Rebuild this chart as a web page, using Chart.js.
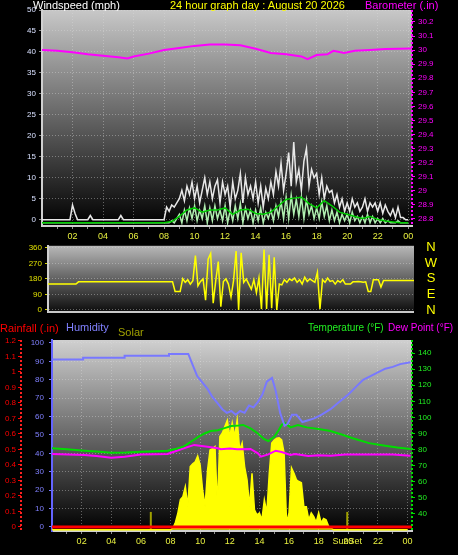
<!DOCTYPE html>
<html>
<head>
<meta charset="utf-8">
<title>24 hour graph day</title>
<script src="https://cdn.jsdelivr.net/npm/chart.js@4.4.1/dist/chart.umd.min.js"></script>
<style>
    body { margin: 0; background: #000; font-family: "Liberation Sans", Arial, sans-serif; }
    #page { position: relative; width: 458px; height: 555px; overflow: hidden; background: #000; }
    #page canvas { position: absolute; left: 0; }
    .caption { position: absolute; font-size: 11px; line-height: 12px; white-space: nowrap; }
</style>
</head>
<body>
<div id="page">
    <canvas id="windChart" width="458" height="245" style="top:0"></canvas>
    <canvas id="dirChart" width="458" height="82" style="top:238px"></canvas>
    <canvas id="climateChart" width="458" height="235" style="top:320px"></canvas>

    <span class="caption" style="left:33px;top:-1px;color:#ffffff">Windspeed (mph)</span>
    <span class="caption" style="left:170px;top:-1px;color:#ffff00">24 hour graph day : August 20 2026</span>
    <span class="caption" style="left:365px;top:-1px;color:#ff00ff">Barometer (.in)</span>

    <span class="caption" style="left:0;top:322px;color:#ff0000">Rainfall (.in)</span>
    <span class="caption" style="left:66px;top:321px;color:#8080ff">Humidity</span>
    <span class="caption" style="left:118px;top:326px;color:#a0a000">Solar</span>
    <span class="caption" style="left:308px;top:322px;color:#22ee22;font-size:10px">Temperature (°F)</span>
    <span class="caption" style="left:388px;top:322px;color:#ff00ff;font-size:10px">Dew Point (°F)</span>
</div>
<script>
// time grids (hours since midnight)
const tenMinHours = Array.from({ length: 145 }, (_, i) => i / 6);
const halfHours = Array.from({ length: 49 }, (_, i) => i / 2);
const hourMarks = Array.from({ length: 24 }, (_, i) => i + 1);

// x tick labels
const hourTicks = [2, 4, 6, 8, 10, 12, 14, 16, 18, 20, 22, 24];
const hourLabels = ['02', '04', '06', '08', '10', '12', '14', '16', '18', '20', '22', '00'];

// y tick values
const windTicks = [0, 5, 10, 15, 20, 25, 30, 35, 40, 45, 50];
const baroTicks = [28.8, 28.9, 29, 29.1, 29.2, 29.3, 29.4, 29.5, 29.6, 29.7, 29.8, 29.9, 30, 30.1, 30.2];
const dirTicks = [0, 90, 180, 270, 360];
const compassLetters = ['N', 'E', 'S', 'W', 'N'];
const humTicks = [0, 10, 20, 30, 40, 50, 60, 70, 80, 90, 100];
const rainTicks = [0, 0.1, 0.2, 0.3, 0.4, 0.5, 0.6, 0.7, 0.8, 0.9, 1, 1.1, 1.2];
const tempTicks = [40, 50, 60, 70, 80, 90, 100, 110, 120, 130, 140];

// wind gust (mph), 10 minute readings
const windGust = [
    0, 0, 0, 0, 0, 0,
    0, 0, 0, 0, 0, 0,
    3.5, 1.5, 0, 0, 0, 0,
    0, 1, 0, 0, 0, 0,
    0, 0, 0, 0, 0, 0,
    0, 1, 0, 0, 0, 0,
    0, 0, 0, 0, 0, 0,
    0, 0, 0, 0, 0, 0,
    0, 3, 2, 3.5, 3, 4,
    5, 7, 4.5, 8, 6, 9,
    5, 8, 4, 7, 10, 6,
    9, 5, 8, 9.5, 4, 9,
    6, 8, 3, 9, 5, 7,
    11, 4, 10, 6, 8, 5,
    9, 4, 8, 3, 7.5, 5,
    9, 6, 11.5, 8, 13.5, 7,
    11, 16, 8, 18.5, 9, 12,
    7, 14, 17, 8, 12, 10,
    11, 6, 10, 5, 8, 6.5,
    7, 4, 6, 3, 5, 2,
    4, 2, 5, 3, 4, 2,
    3, 5, 2, 4, 3, 4,
    2, 4, 1.5, 3.5, 2, 1,
    2.5, 0.5, 3, 0.5, 0.5, 0,
    0
];

// wind average (mph), 10 minute readings
const windAvg = [
    0, 0, 0, 0, 0, 0,
    0, 0, 0, 0, 0, 0,
    0, 0, 0, 0, 0, 0,
    0, 0, 0, 0, 0, 0,
    0, 0, 0, 0, 0, 0,
    0, 0, 0, 0, 0, 0,
    0, 0, 0, 0, 0, 0,
    0, 0, 0, 0, 0, 0,
    0, 0, 0, 0.5, 0, 1,
    2, 0, 3, 0.5, 3.5, 1,
    4, 0.5, 3, 1, 4, 0,
    3.5, 0.5, 4, 1, 3, 0.5,
    4, 0, 3, 0.5, 4, 1,
    4.5, 0, 3.5, 1, 3, 0,
    3, 0.5, 3.5, 0, 2.5, 1,
    3, 0.5, 4, 1.5, 5, 1,
    6, 1, 6.5, 2, 5.5, 1.5,
    6, 1, 5.5, 2, 4, 1,
    3.5, 1, 5, 1.5, 4, 0.5,
    3, 0.5, 2.5, 0, 2, 0.5,
    2, 0, 2.5, 0.5, 1.5, 0,
    1.5, 0, 2, 0, 1.5, 0,
    1, 0, 1, 0, 0.5, 0,
    0, 0, 0.5, 0, 0, 0,
    0
];

// wind average, half hourly
const windAvgSmooth = [
    0, 0, 0, 0, 0, 0, 0, 0, 0, 0, 0, 0, 0, 0, 0, 0, 0,
    0.3, 1.5, 3, 3.5, 2.5, 3, 3, 3.5, 2, 3, 3.2, 2.2, 2, 2.5, 4, 5.5,
    5.8, 6, 4.5, 3.5, 5.2, 4, 2.5, 2, 1.5, 1, 1.5, 0.8, 0.4, 0.2, 0, 0
];

// barometer (in)
const baroHours = [0, 1, 2, 3, 4, 5, 5.6, 6, 7, 8, 9, 10, 11, 12, 13, 14, 15, 16, 17, 17.4, 18, 18.7, 19.1, 19.8, 20.5, 21.5, 22.5, 24.25];
const baroValues = [30.0, 29.995, 29.985, 29.97, 29.96, 29.95, 29.94, 29.955, 29.975, 30.0, 30.015, 30.03, 30.04, 30.04, 30.035, 30.01, 29.98, 29.97, 29.955, 29.935, 29.965, 29.97, 29.995, 29.98, 29.995, 30.0, 30.007, 30.012];

// wind direction (degrees), 10 minute readings
const windDir = [
    150, 150, 150, 150, 150, 150,
    150, 150, 150, 150, 150, 150,
    163, 163, 163, 163, 163, 163,
    163, 163, 163, 163, 163, 163,
    163, 163, 163, 163, 163, 163,
    163, 163, 163, 163, 163, 163,
    163, 163, 163, 163, 163, 163,
    163, 163, 163, 163, 163, 163,
    163, 163, 107, 107, 107, 181,
    160, 175, 150, 170, 315, 140,
    165, 180, 56, 294, 328, 39,
    170, 281, 19, 165, 180, 150,
    75, 170, 342, 0, 331, 160,
    180, 150, 120, 175, 100, 185,
    5, 350, 5, 320, 10, 305,
    0, 150, 145, 175, 160, 180,
    170, 185, 160, 175, 150, 190,
    165, 180, 170, 160, 219, 5,
    175, 160, 185, 165, 170, 150,
    170, 160, 175, 150, 150, 150,
    163, 163, 165, 163, 160, 163,
    107, 107, 175, 175, 175, 133,
    170, 170, 170, 170, 170, 170,
    170, 170, 170, 170, 170, 170,
    170
];

// humidity (%)
const humHours = [0, 2.1, 2.1, 4.9, 4.9, 7.9, 7.9, 9.2, 9.5, 9.8, 10.2, 10.5, 10.8, 11.2, 11.5, 11.8, 12.1, 12.4, 12.7, 13.0, 13.3, 13.6, 13.9, 14.2, 14.5, 14.85, 15.1, 15.4, 15.7, 15.9, 16.2, 16.5, 16.9, 17.3, 17.7, 18.2, 18.8, 19.4, 20.0, 20.5, 21.0, 21.5, 22.0, 22.5, 23.0, 23.5, 24.2];
const humValues = [91, 91, 92, 92, 93, 93, 94, 94, 88, 82, 78, 75, 71, 67, 64, 62, 63, 61, 63, 62, 66, 65, 68, 72, 79, 81, 74, 62, 55, 56, 61, 61, 57, 58, 59, 61, 64, 68, 72, 76, 80, 82, 84, 86, 87, 88.5, 89.5];

// temperature (F)
const tempHours = [0, 1, 2.2, 3, 4, 5, 6, 7, 7.8, 8.4, 8.9, 9.4, 9.9, 10.3, 10.7, 11.2, 11.7, 12.1, 12.6, 12.9, 13.4, 13.9, 14.3, 14.6, 15.0, 15.3, 15.5, 15.7, 16.1, 16.6, 17.2, 18.1, 18.8, 19.5, 20.3, 21.4, 22.5, 23.3, 24.2];
const tempValues = [80.8, 80.2, 79.3, 78.8, 78, 78.2, 78.7, 79, 79.3, 80.5, 82, 85, 88, 90, 91.5, 92, 93.5, 94.7, 95, 95.3, 93.2, 90, 86.6, 85.3, 88, 92, 95.3, 96.7, 93.8, 95.3, 93.8, 92.6, 91.5, 89.5, 87, 84, 82.4, 81.3, 80.4];

// dew point (F)
const dewHours = [0, 2.2, 3, 4, 4.9, 6, 7.8, 8.9, 9.3, 9.6, 10.5, 11.2, 11.4, 12.0, 12.5, 13.4, 13.9, 14.1, 14.6, 15.1, 15.5, 16.1, 16.4, 17.3, 18.0, 18.8, 19.8, 21, 22, 23, 24.2];
const dewValues = [77.3, 76.6, 76, 75, 75.6, 77, 77.3, 80.8, 82, 82.9, 81.8, 80.8, 80.2, 80.6, 80.2, 80.4, 77.7, 75.6, 77, 79.3, 78.5, 76.6, 77.3, 76, 76.5, 76.2, 77, 77, 77, 77, 76.2];

// rainfall (in)
const rainHours = [0, 24.3];
const rainValues = [0, 0];

// solar (W/m2), 10 minute readings
const solar = [
    0, 0, 0, 0, 0, 0,
    0, 0, 0, 0, 0, 0,
    0, 0, 0, 0, 0, 0,
    0, 0, 0, 0, 0, 0,
    0, 0, 0, 0, 0, 0,
    0, 0, 0, 0, 0, 0,
    0, 0, 0, 0, 0, 0,
    0, 0, 0, 0, 0, 0,
    0, 10, 40, 90, 160, 176,
    229, 123, 335, 350, 360, 391,
    344, 212, 123, 317, 423, 430,
    441, 123, 494, 513, 547, 580,
    494, 566, 494, 582, 423, 460,
    335, 265, 123, 300, 106, 80,
    90, 53, 159, 90, 300, 460,
    476, 485, 487, 476, 407, 37,
    90, 328, 300, 265, 256, 249,
    123, 123, 53, 90, 70, 40,
    90, 37, 60, 53, 20, 10,
    0, 0, 0, 0, 0, 0,
    0, 0, 0, 0, 0, 0,
    0, 0, 0, 0, 0, 0,
    0, 0, 0, 0, 0, 0,
    0, 0, 0, 0, 0, 0,
    0
];
const sunEvents = [6.67, 19.93];
const sunMarkerLevel = 95;

Chart.defaults.font.family = '"Liberation Sans", Arial, sans-serif';

const gridColor = 'rgba(220, 220, 220, 0.4)';
const gridDash = [1, 2];
const xLabelColor = '#e8f040';

function toPoints(xs, ys) {
    return xs.map((x, i) => ({ x: x, y: ys[i] }));
}

function fixWidth(w) {
    return scale => { scale.width = w; };
}

function fixHeight(h) {
    return scale => { scale.height = h; };
}

function setTicks(values) {
    return scale => { scale.ticks = values.map(v => ({ value: v })); };
}

function hourAxis(min, max, height, show) {
    return {
        type: 'linear',
        min: min,
        max: max,
        display: show,
        afterBuildTicks: setTicks(hourMarks),
        afterFit: fixHeight(height),
        border: { color: '#d0d0d0', width: 2, dash: gridDash },
        grid: {
            color: ctx => (ctx.tick && hourTicks.includes(ctx.tick.value)) ? gridColor : 'rgba(0,0,0,0)',
            tickColor: '#909090',
            tickLength: 3
        },
        ticks: {
            autoSkip: false,
            maxRotation: 0,
            padding: 2,
            color: xLabelColor,
            font: { size: 9 },
            callback: v => {
                const i = hourTicks.indexOf(v);
                return i < 0 ? '' : hourLabels[i];
            }
        }
    };
}

// background gradient, dotted axis lines and frame
function panelPlugin(cfg) {
    return {
        id: 'panel',
        beforeDraw(chart) {
            const { ctx, chartArea } = chart;
            const { left, top, right, bottom } = chartArea;
            const grad = ctx.createLinearGradient(0, top, 0, bottom);
            grad.addColorStop(0, cfg.top);
            grad.addColorStop(1, cfg.bottom);
            ctx.save();
            ctx.fillStyle = grad;
            ctx.fillRect(left, top, right - left, bottom - top);
            ctx.restore();
        },
        afterDraw(chart) {
            const { ctx, chartArea } = chart;
            ctx.save();
            ctx.lineWidth = 2;
            (cfg.dotted || []).forEach(d => {
                const scale = chart.scales[d.axis];
                const x = scale.position === 'left' ? scale.right : scale.left;
                ctx.strokeStyle = d.color;
                ctx.setLineDash([2, 2]);
                ctx.beginPath();
                ctx.moveTo(x, chartArea.top);
                ctx.lineTo(x, chartArea.bottom);
                ctx.stroke();
            });
            if (cfg.frameBottom) {
                ctx.setLineDash([]);
                ctx.strokeStyle = cfg.frameBottom;
                ctx.beginPath();
                ctx.moveTo(chartArea.left, chartArea.bottom);
                ctx.lineTo(chartArea.right, chartArea.bottom);
                ctx.stroke();
            }
            if (cfg.extra) cfg.extra(chart);
            ctx.restore();
        }
    };
}

const baseOptions = () => ({
    responsive: false,
    animation: false,
    events: [],
    elements: { point: { radius: 0 }, line: { tension: 0 } },
    plugins: { legend: { display: false }, tooltip: { enabled: false } }
});

// ---- Windspeed / barometer ----
const windOptions = baseOptions();
windOptions.layout = { padding: { top: 10, left: 0, right: 0, bottom: 0 } };
windOptions.scales = {
    x: hourAxis(0, 24.25, 19, true),
    yWind: {
        position: 'left',
        min: -1.5,
        max: 50,
        afterBuildTicks: setTicks(windTicks),
        afterFit: fixWidth(42),
        border: { color: '#d0d0d0', width: 2, dash: gridDash },
        grid: { color: gridColor, tickColor: '#909090', tickLength: 3 },
        ticks: { color: '#d8e0ff', font: { size: 8 }, padding: 3, callback: v => String(v) }
    },
    yAvg: { display: false, min: -0.75, max: 50 },
    yBaro: {
        position: 'right',
        min: 28.75,
        max: 30.285,
        afterBuildTicks: setTicks(baroTicks),
        afterFit: fixWidth(46),
        border: { display: false },
        grid: { drawOnChartArea: false, tickColor: '#ff00ff', tickLength: 3 },
        ticks: { color: '#ff00ff', font: { size: 8 }, padding: 3, callback: v => String(Math.round(v * 10) / 10) }
    }
};

new Chart(document.getElementById('windChart'), {
    type: 'line',
    data: {
        datasets: [
            { label: 'Barometer', data: toPoints(baroHours, baroValues), yAxisID: 'yBaro', borderColor: '#ff00ff', borderWidth: 2, order: 0 },
            { label: 'Wind average', data: toPoints(halfHours, windAvgSmooth), yAxisID: 'yAvg', borderColor: '#00cc00', borderWidth: 1.5, order: 1 },
            { label: 'Wind speed', data: toPoints(tenMinHours, windAvg), yAxisID: 'yAvg', borderColor: '#b0eeb0', borderWidth: 1.5, order: 2 },
            { label: 'Wind gust', data: toPoints(tenMinHours, windGust), yAxisID: 'yWind', borderColor: '#e8e8e8', borderWidth: 1.5, order: 3 }
        ]
    },
    options: windOptions,
    plugins: [panelPlugin({ top: '#c8c8c8', bottom: '#000000', dotted: [{ axis: 'yBaro', color: '#ff00ff' }] })]
});

// ---- Wind direction ----
const dirOptions = baseOptions();
dirOptions.layout = { padding: { top: 6, left: 0, right: 44, bottom: 8 } };
dirOptions.scales = {
    x: { type: 'linear', display: false, min: 0, max: 24 },
    y: {
        position: 'left',
        min: -12,
        max: 372,
        afterBuildTicks: setTicks(dirTicks),
        afterFit: fixWidth(48),
        border: { color: '#d0d0d0', width: 2, dash: gridDash },
        grid: { color: gridColor, tickColor: '#d8d800', tickLength: 3 },
        ticks: { color: '#e0e000', font: { size: 8 }, padding: 3, callback: v => String(v) }
    }
};

new Chart(document.getElementById('dirChart'), {
    type: 'line',
    data: {
        datasets: [
            { label: 'Wind direction', data: toPoints(tenMinHours, windDir), borderColor: '#ffff00', borderWidth: 1.5 }
        ]
    },
    options: dirOptions,
    plugins: [panelPlugin({
        top: '#b8b8b8',
        bottom: '#0c0c0c',
        frameBottom: '#c8c8c8',
        extra: chart => {
            const ctx = chart.ctx;
            const y = chart.scales.y;
            ctx.fillStyle = '#ffff00';
            ctx.font = '13px "Liberation Sans", Arial, sans-serif';
            ctx.textAlign = 'center';
            ctx.textBaseline = 'middle';
            dirTicks.forEach((deg, i) => ctx.fillText(compassLetters[i], 431, y.getPixelForValue(deg)));
        }
    })]
});

// ---- Rain / humidity / solar / temperature ----
const climateOptions = baseOptions();
climateOptions.layout = { padding: { top: 20, left: 0, right: 0, bottom: 0 } };
climateOptions.scales = {
    x: hourAxis(0, 24.3, 24, true),
    yHum: {
        position: 'left',
        min: -2.2,
        max: 101.6,
        afterBuildTicks: setTicks(humTicks),
        afterFit: fixWidth(31),
        border: { color: '#6464ff', width: 2, dash: gridDash },
        grid: { color: gridColor, tickColor: '#8080ff', tickLength: 3 },
        ticks: { color: '#8080ff', font: { size: 8 }, padding: 5, callback: v => String(v) }
    },
    yRain: {
        position: 'left',
        min: -0.026,
        max: 1.206,
        afterBuildTicks: setTicks(rainTicks),
        afterFit: fixWidth(21),
        border: { display: false },
        grid: { drawOnChartArea: false, tickColor: '#ff0000', tickLength: 3 },
        ticks: { color: '#ff0000', font: { size: 8 }, padding: 2, callback: v => String(Math.round(v * 10) / 10) }
    },
    yTemp: {
        position: 'right',
        min: 29.4,
        max: 148.1,
        afterBuildTicks: setTicks(tempTicks),
        afterFit: fixWidth(46),
        border: { display: false },
        grid: { drawOnChartArea: false, tickColor: '#00dd00', tickLength: 3 },
        ticks: { color: '#22ee22', font: { size: 8 }, padding: 3, callback: v => String(v) }
    },
    ySolar: { display: false, min: -6, max: 1005 }
};

new Chart(document.getElementById('climateChart'), {
    type: 'line',
    data: {
        datasets: [
            { label: 'Rainfall', data: toPoints(rainHours, rainValues), yAxisID: 'yRain', borderColor: '#ff0000', borderWidth: 3, order: 0 },
            { label: 'Humidity', data: toPoints(humHours, humValues), yAxisID: 'yHum', borderColor: '#7878ff', borderWidth: 2, order: 1 },
            { label: 'Temperature', data: toPoints(tempHours, tempValues), yAxisID: 'yTemp', borderColor: '#00dd00', borderWidth: 2, order: 2 },
            { label: 'Dew Point', data: toPoints(dewHours, dewValues), yAxisID: 'yTemp', borderColor: '#ff00ff', borderWidth: 2, order: 3 },
            { label: 'Solar', data: toPoints(tenMinHours, solar), yAxisID: 'ySolar', borderColor: '#ffff00', backgroundColor: '#ffff00', borderWidth: 1.5, fill: 'origin', order: 4 }
        ]
    },
    options: climateOptions,
    plugins: [
        {
            id: 'sunMarkers',
            beforeDatasetsDraw(chart) {
                const { ctx, scales } = chart;
                ctx.save();
                ctx.strokeStyle = '#a0a000';
                ctx.lineWidth = 2;
                sunEvents.forEach(h => {
                    const x = scales.x.getPixelForValue(h);
                    ctx.beginPath();
                    ctx.moveTo(x, scales.ySolar.getPixelForValue(0));
                    ctx.lineTo(x, scales.ySolar.getPixelForValue(sunMarkerLevel));
                    ctx.stroke();
                });
                ctx.restore();
            }
        },
        panelPlugin({
            top: '#d0d0d0',
            bottom: '#000000',
            dotted: [{ axis: 'yRain', color: '#ff2020' }, { axis: 'yTemp', color: '#00dd00' }],
            extra: chart => {
                const ctx = chart.ctx;
                ctx.fillStyle = xLabelColor;
                ctx.font = '9px "Liberation Sans", Arial, sans-serif';
                ctx.textAlign = 'center';
                ctx.textBaseline = 'top';
                ctx.fillText('SunSet', chart.scales.x.getPixelForValue(sunEvents[1]), chart.chartArea.bottom + 6);
            }
        })
    ]
});
</script>
</body>
</html>
